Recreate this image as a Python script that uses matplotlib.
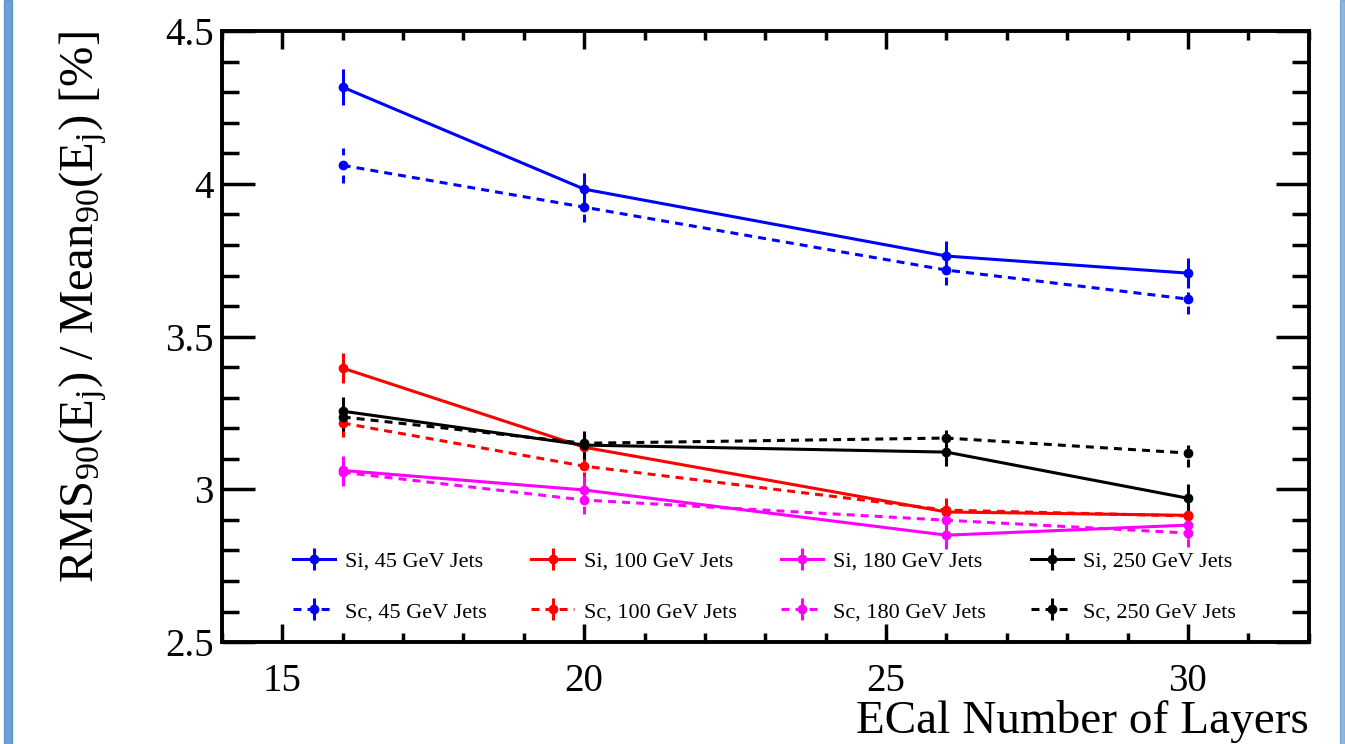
import numpy as np
import matplotlib.pyplot as plt
from matplotlib.ticker import MultipleLocator
from matplotlib.patches import Rectangle

plt.rcParams['font.family'] = ['Liberation Serif', 'DejaVu Serif']
plt.rcParams['mathtext.fontset'] = 'custom'
plt.rcParams['mathtext.rm'] = 'Liberation Serif'
plt.rcParams['mathtext.it'] = 'Liberation Serif:italic'

layers = [16, 20, 26, 30]

si_45 = [4.317, 3.983, 3.764, 3.708]
si_45_err = [0.06, 0.052, 0.05, 0.05]
sc_45 = [4.061, 3.924, 3.718, 3.623]
sc_45_err = [0.057, 0.05, 0.05, 0.05]

si_100 = [3.397, 3.138, 2.926, 2.915]
si_100_err = [0.05, 0.045, 0.045, 0.045]
sc_100 = [3.217, 3.076, 2.932, 2.913]
sc_100_err = [0.045, 0.045, 0.045, 0.045]

si_180 = [3.062, 2.998, 2.850, 2.883]
si_180_err = [0.048, 0.045, 0.045, 0.045]
sc_180 = [3.056, 2.965, 2.899, 2.857]
sc_180_err = [0.045, 0.045, 0.045, 0.045]

si_250 = [3.256, 3.145, 3.122, 2.971]
si_250_err = [0.048, 0.045, 0.045, 0.045]
sc_250 = [3.237, 3.151, 3.168, 3.119]
sc_250_err = [0.045, 0.045, 0.045, 0.045]

series = [
    ("Si, 45 GeV Jets", si_45, si_45_err, "#0000ff", "-"),
    ("Sc, 45 GeV Jets", sc_45, sc_45_err, "#0000ff", "--"),
    ("Si, 100 GeV Jets", si_100, si_100_err, "#ff0000", "-"),
    ("Sc, 100 GeV Jets", sc_100, sc_100_err, "#ff0000", "--"),
    ("Si, 180 GeV Jets", si_180, si_180_err, "#ff00ff", "-"),
    ("Sc, 180 GeV Jets", sc_180, sc_180_err, "#ff00ff", "--"),
    ("Si, 250 GeV Jets", si_250, si_250_err, "#000000", "-"),
    ("Sc, 250 GeV Jets", sc_250, sc_250_err, "#000000", "--"),
]

dash = (0, (2.6, 2.0))

fig = plt.figure(figsize=(13.45, 7.44), dpi=100)
ax = fig.add_axes([0.165, 0.137, 0.808, 0.821])

handles = []
for label, vals, errs, col, ls in series:
    eb = ax.errorbar(layers, vals, yerr=errs, color=col,
                     ls=dash if ls == "--" else "-", lw=2.2,
                     marker='o', ms=6, elinewidth=2.2, capsize=0,
                     label=label)
    if ls == "--":
        eb[-1][0].set_linestyle(dash)
    handles.append(eb)

ax.set_xlim(14, 32)
ax.set_ylim(2.5, 4.5)
ax.xaxis.set_major_locator(MultipleLocator(5))
ax.xaxis.set_minor_locator(MultipleLocator(1))
ax.yaxis.set_major_locator(MultipleLocator(0.5))
ax.yaxis.set_minor_locator(MultipleLocator(0.1))
ax.yaxis.set_major_formatter(plt.FuncFormatter(lambda v, p: f"{v:g}"))

ax.tick_params(axis='both', which='both', direction='in', top=True, right=True,
               labelsize=28, width=2.5)
ax.tick_params(axis='x', which='major', length=13, pad=15)
ax.tick_params(axis='x', which='minor', length=6.5)
ax.tick_params(axis='y', which='major', length=24, pad=6)
ax.tick_params(axis='y', which='minor', length=12)
for sp in ax.spines.values():
    sp.set_linewidth(2.8)

ax.set_xlabel("ECal Number of Layers", fontsize=34, loc='right', labelpad=0)
ax.set_ylabel(r"RMS$_{90}$(E$_{\rm j}$) / Mean$_{90}$(E$_{\rm j}$) [%]",
              fontsize=35, loc='top', labelpad=40)

ax.legend(handles=handles, ncol=4, loc='lower left', bbox_to_anchor=(0.047, 0.0),
          frameon=False, fontsize=16, handlelength=1.9, handletextpad=0.45,
          columnspacing=2.0, labelspacing=1.35)

# blue screenshot edges
fig.patches.append(Rectangle((0.003, 0), 0.006, 1, transform=fig.transFigure,
                             color='#4a88cc', alpha=0.8, zorder=0))
fig.patches.append(Rectangle((0.996, 0), 0.004, 1, transform=fig.transFigure,
                             color='#4a88cc', alpha=0.6, zorder=0))

fig.savefig("out.png", dpi=100)
